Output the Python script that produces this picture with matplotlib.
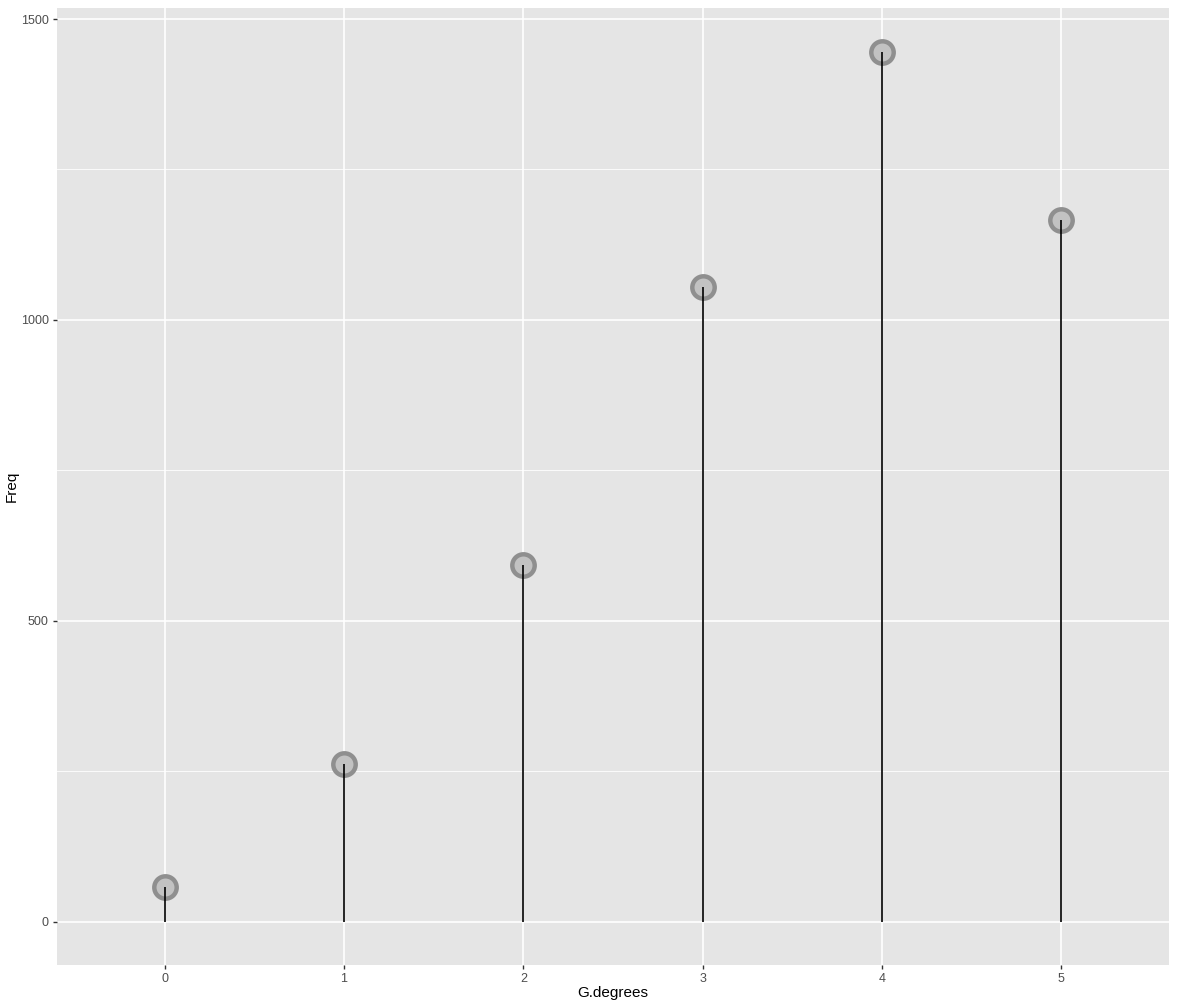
import numpy as np
import matplotlib.pyplot as plt

plt.rcParams['font.family'] = ['Liberation Sans', 'DejaVu Sans']

# degree values and their frequencies
degrees = [0, 1, 2, 3, 4, 5]
freq = [58, 261, 593, 1055, 1446, 1166]
y_ticks = [0, 500, 1000, 1500]
y_minor = [250, 750, 1250]

fig = plt.figure(figsize=(11.77, 10.08), dpi=100)
ax = fig.add_axes([57 / 1177, 43 / 1008, 1112 / 1177, 957 / 1008])
ax.set_facecolor('#e5e5e5')

ax.set_xlim(-0.6, 5.6)
ymax = max(freq)
ax.set_ylim(-0.05 * ymax, 1.05 * ymax)

# grid lines
for y in y_minor:
    ax.axhline(y, color='white', lw=0.6, zorder=0)
for y in y_ticks:
    ax.axhline(y, color='white', lw=1.2, zorder=0)
for x in degrees:
    ax.axvline(x, color='white', lw=1.2, zorder=0)

# lollipops
ax.scatter(degrees, freq, s=260, facecolor='#c2c2c2', edgecolor='#8f8f8f',
           linewidths=3.2, zorder=2)
ax.vlines(degrees, 0, freq, color='black', lw=1.2, zorder=3)

ax.set_xticks(degrees)
ax.set_yticks(y_ticks)
ax.tick_params(axis='both', colors='#333333', labelcolor='#4d4d4d',
               labelsize=9, length=3, width=1, pad=3)
for s in ax.spines.values():
    s.set_visible(False)

ax.set_xlabel('G.degrees', fontsize=11)
ax.set_ylabel('Freq', fontsize=11)
ax.xaxis.set_label_coords(0.5, -0.022)
ax.yaxis.set_label_coords(-0.034, 0.5)

fig.savefig('out.png', dpi=100)
